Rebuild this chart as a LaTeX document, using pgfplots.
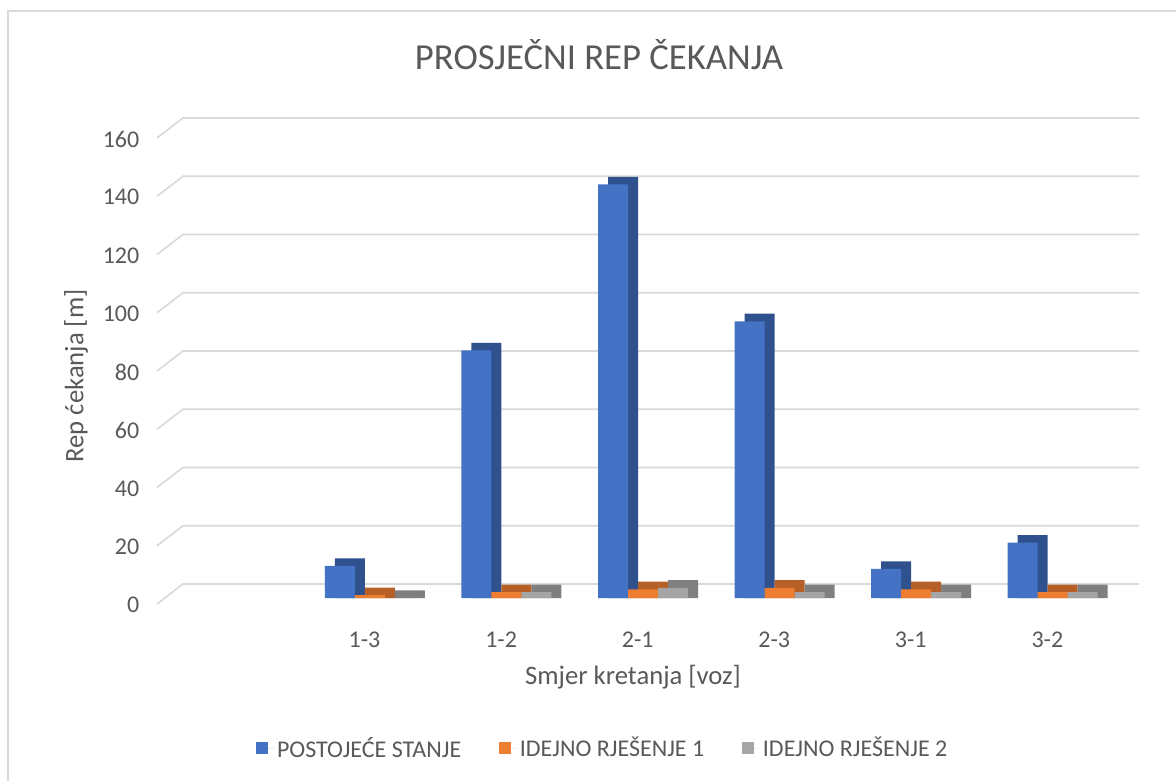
\documentclass[border=0pt]{standalone}
\usepackage{pgfplots}
\pgfplotsset{compat=1.18}
\usepackage{fontspec}
\setmainfont{Carlito}
\definecolor{cblue}{HTML}{4472C4}
\definecolor{corange}{HTML}{ED7D31}
\definecolor{cgray}{HTML}{A5A5A5}
\definecolor{dblue}{HTML}{2F528F}
\definecolor{dorange}{HTML}{B65F26}
\definecolor{dgray}{HTML}{7F7F7F}
\definecolor{gridc}{HTML}{D9D9D9}
\definecolor{txt}{HTML}{595959}
\begin{document}
\begin{tikzpicture}
\path[use as bounding box, fill=white] (0pt,0pt) rectangle (882pt,585.75pt);
\draw[gridc, line width=1.2pt] (6pt,0pt) -- (6pt,577.5pt) -- (882pt,577.5pt);
\node[txt, font=\fontsize{27.5}{32}\selectfont] at (449.25pt,544.5pt) {PROSJEČNI REP ČEKANJA};
\node[txt, rotate=90, font=\fontsize{20}{24}\selectfont] at (57pt,303.75pt) {Rep ćekanja [m]};
\node[txt, font=\fontsize{20}{24}\selectfont] at (474.75pt,78pt) {Smjer kretanja [voz]};
\begin{axis}[
  at={(123.75pt,137.25pt)}, anchor=south west,
  scale only axis, width=717pt, height=349.5pt,
  xmin=-0.5, xmax=6.5, ymin=0, ymax=160,
  clip=false,
  axis line style={draw=none}, tick style={draw=none},
  ytick={0,20,40,60,80,100,120,140,160},
  xtick={0,1,2,3,4,5,6},
  xticklabels={{},1-3,1-2,2-1,2-3,3-1,3-2},
  ticklabel style={txt, font=\fontsize{18}{22}\selectfont},
  /pgf/number format/assume math mode=true,
  yticklabel style={anchor=east, xshift=-15.75pt, yshift=-5.25pt},
  xticklabel style={anchor=center, yshift=-27pt, xshift=-4pt},
  ybar, bar width=22.5pt,
  legend columns=3,
  legend style={at={(0.458,-0.322)}, anchor=center, draw=none, fill=none,
    font=\fontsize{18}{22}\selectfont, text=txt,
    /tikz/every even column/.append style={column sep=26pt}},
  legend image code/.code={\fill[#1, draw=none] (0pt,-4.5pt) rectangle (9pt,4.5pt); \path[draw=none] (0pt,0pt) -- (14pt,0pt);},
]
\pgfplotsinvokeforeach{0,20,40,60,80,100,120,140,160}{
  \draw[gridc, line width=1.2pt] ([xshift=-6pt,yshift=-4.5pt]axis cs:-0.5,#1) -- ([xshift=13.5pt,yshift=10.5pt]axis cs:-0.5,#1) -- ([xshift=13.5pt,yshift=10.5pt]axis cs:6.5,#1);
}
% blue
\addplot[forget plot, fill=dblue, draw=none, bar shift=-15pt, y filter/.expression={y+2.6}] coordinates {(1,11) (2,85) (3,142) (4,95) (5,10) (6,19)};
\addplot[fill=cblue, draw=none, bar shift=-22.5pt] coordinates {(1,11) (2,85) (3,142) (4,95) (5,10) (6,19)};
% orange
\addplot[forget plot, fill=dorange, draw=none, bar shift=7.5pt, y filter/.expression={y+2.6}] coordinates {(1,1) (2,2) (3,3) (4,3.5) (5,3) (6,2)};
\addplot[fill=corange, draw=none, bar shift=0pt] coordinates {(1,1) (2,2) (3,3) (4,3.5) (5,3) (6,2)};
% gray
\addplot[forget plot, fill=dgray, draw=none, bar shift=30pt, y filter/.expression={y+2.6}] coordinates {(1,0) (2,2) (3,3.5) (4,2) (5,2) (6,2)};
\addplot[fill=cgray, draw=none, bar shift=22.5pt] coordinates {(1,0) (2,2) (3,3.5) (4,2) (5,2) (6,2)};
\legend{POSTOJEĆE STANJE, IDEJNO RJEŠENJE 1, IDEJNO RJEŠENJE 2}
\end{axis}
\end{tikzpicture}
\end{document}
